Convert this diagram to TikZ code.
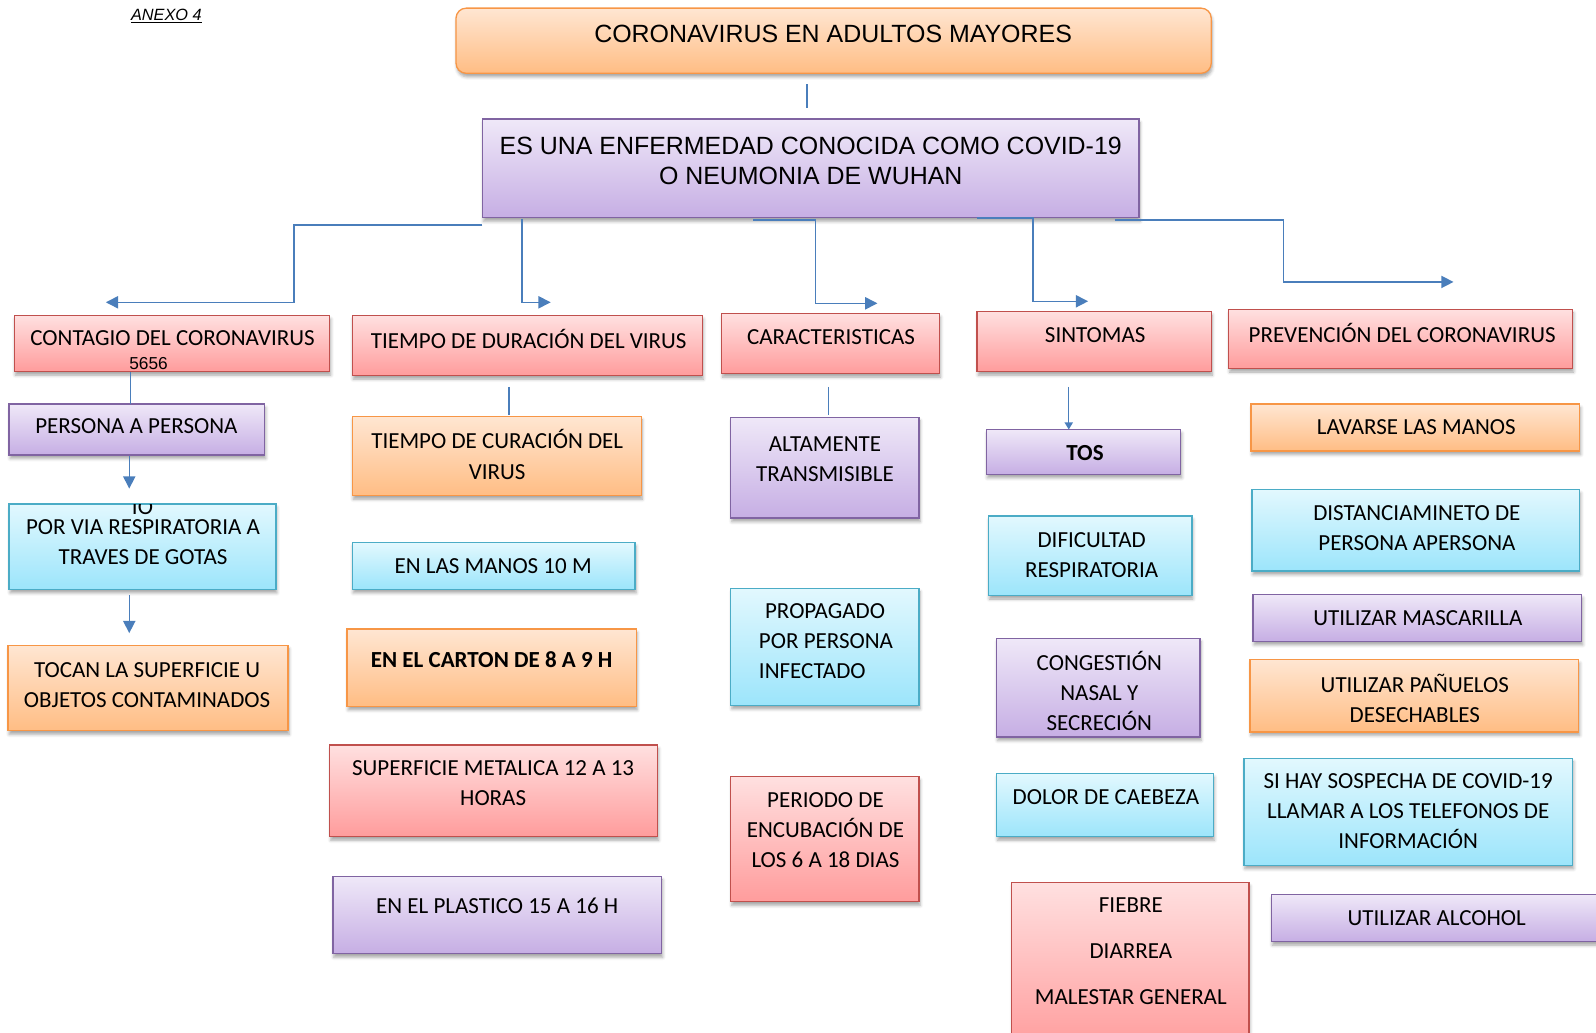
\documentclass[tikz,border=0pt]{standalone}
\usepackage{fontspec}
\setmainfont{Carlito}
\newfontfamily\arialf{Liberation Sans}
\usetikzlibrary{arrows.meta,shadows.blur,calc}
\definecolor{redD}{HTML}{C0504D}\definecolor{redT}{HTML}{FFE0E0}\definecolor{redU}{HTML}{FF9C9C}
\definecolor{oraD}{HTML}{F79646}\definecolor{oraT}{HTML}{FFE6D2}\definecolor{oraU}{HTML}{FFBD84}
\definecolor{purD}{HTML}{8064A2}\definecolor{purT}{HTML}{EFE8F8}\definecolor{purU}{HTML}{C6AEE4}
\definecolor{cyaD}{HTML}{4BACC6}\definecolor{cyaT}{HTML}{E2F8FE}\definecolor{cyaU}{HTML}{9CE5FB}
\definecolor{lineB}{HTML}{4A7EBB}
\newcommand\mkbox[6]{\node[#6, minimum width=#4pt-#2pt, minimum height=#5pt-#3pt] (#1) at ({(#2+#4)/2},{-(#3+#5)/2}) {};}
\tikzset{
  box/.style={draw, line width=1.3pt, inner sep=0pt, outer sep=0pt, rectangle,
    blur shadow={shadow xshift=1pt, shadow yshift=-3.5pt, shadow blur radius=3pt, shadow opacity=35}},
  redbox/.style={box, draw=redD, top color=redT, bottom color=redU},
  orabox/.style={box, draw=oraD, top color=oraT, bottom color=oraU},
  purbox/.style={box, draw=purD, top color=purT, bottom color=purU},
  cyabox/.style={box, draw=cyaD, top color=cyaT, bottom color=cyaU},
  txt/.style={align=center, inner sep=0pt, font=\fontsize{22.6}{29.5}\selectfont},
  atxt/.style={align=center, inner sep=0pt, font=\arialf\fontsize{24.5}{30}\selectfont},
  conn/.style={draw=lineB, line width=1.4pt},
  arr/.style={conn, -{Triangle[width=12pt,length=12pt]}},
  sarr/.style={conn, -{Triangle[width=8pt,length=7pt]}}
}
\begin{document}
\begin{tikzpicture}[x=1pt,y=1pt]
\useasboundingbox (0,0) rectangle (1568,-1014);
% boxes
\mkbox{title}{448}{8}{1190}{72}{orabox, rounded corners=10pt}
\mkbox{def}{474}{117}{1119}{214}{purbox}
\mkbox{contagio}{14}{310}{324}{365}{redbox}
\mkbox{duracion}{346}{310}{690}{369}{redbox}
\mkbox{caract}{709}{308}{923}{367}{redbox}
\mkbox{sintomas}{960}{306}{1190}{365}{redbox}
\mkbox{prevencion}{1207}{304}{1545}{362}{redbox}
\mkbox{persona}{9}{397}{260}{447}{purbox}
\mkbox{porvia}{9}{495}{271}{579}{cyabox}
\mkbox{tocan}{8}{634}{283}{718}{orabox}
\mkbox{curacion}{346}{409}{630}{487}{orabox}
\mkbox{manos}{346}{533}{624}{579}{cyabox}
\mkbox{carton}{341}{618}{625}{694}{orabox}
\mkbox{metal}{324}{732}{646}{822}{redbox}
\mkbox{plastico}{327}{861}{650}{937}{purbox}
\mkbox{altamente}{718}{410}{903}{509}{purbox}
\mkbox{propagado}{718}{578}{903}{693}{cyabox}
\mkbox{periodo}{718}{763}{903}{886}{redbox}
\mkbox{tos}{969}{422}{1160}{466}{purbox}
\mkbox{dificultad}{971}{507}{1171}{585}{cyabox}
\mkbox{congestion}{979}{627}{1179}{724}{purbox}
\mkbox{dolor}{979}{760}{1192}{822}{cyabox}
\mkbox{fiebre}{994}{867}{1227}{1032}{redbox}
\mkbox{lavarse}{1229}{397}{1552}{443}{orabox}
\mkbox{distancia}{1230}{481}{1552}{561}{cyabox}
\mkbox{mascarilla}{1231}{584}{1554}{630}{purbox}
\mkbox{panuelos}{1228}{648}{1551}{719}{orabox}
\mkbox{sospecha}{1222}{745}{1545}{850}{cyabox}
\mkbox{alcohol}{1249}{879}{1582}{925}{purbox}
% texts
\node[inner sep=0pt, font=\arialf\itshape\fontsize{16}{18}\selectfont] (anexo) at (163.5,-16) {\underline{ANEXO 4}};
\node[atxt] (ttitle) at (818.5,-33) {CORONAVIRUS EN ADULTOS MAYORES};
\node[atxt] (tdef) at (796.5,-158) {ES UNA ENFERMEDAD CONOCIDA COMO COVID-19\\O NEUMONIA DE WUHAN};
\node[txt] (tcontagio) at (169.5,-332) {CONTAGIO DEL CORONAVIRUS};
\node[inner sep=0pt, font=\arialf\fontsize{17}{19}\selectfont] (t5656) at (146,-357) {5656};
\node[txt] (tduracion) at (519.5,-333) {TIEMPO DE DURACIÓN DEL VIRUS};
\node[txt] (tcaract) at (816.5,-331) {CARACTERISTICAS};
\node[txt] (tsintomas) at (1076,-329) {SINTOMAS};
\node[txt] (tprevencion) at (1377.5,-327) {PREVENCIÓN DEL CORONAVIRUS};
\node[txt] (tpersona) at (134,-419) {PERSONA A PERSONA};
\begin{scope}
\clip ($(porvia.north west)+(1,-1)$) rectangle (porvia.south east);
\node[txt] (tio) at (140,-498) {IO};
\end{scope}
\node[txt] (tporvia) at (140.5,-533) {POR VIA RESPIRATORIA A\\TRAVES DE GOTAS};
\node[txt] (ttocan) at (144.5,-673) {TOCAN LA SUPERFICIE U\\OBJETOS CONTAMINADOS};
\node[txt] (tcuracion) at (488.5,-446.5) {TIEMPO DE CURACIÓN DEL\\VIRUS};
\node[txt] (tmanos) at (484.5,-556) {EN LAS MANOS 10 M};
\node[txt, font=\fontsize{22.6}{29.5}\selectfont\bfseries] (tcarton) at (483,-648) {EN EL CARTON DE 8 A 9 H};
\node[txt] (tmetal) at (484.5,-769) {SUPERFICIE METALICA 12 A 13\\HORAS};
\node[txt] (tplastico) at (488.5,-890) {EN EL PLASTICO 15 A 16 H};
\node[txt] (taltamente) at (810.5,-451.5) {ALTAMENTE\\TRANSMISIBLE};
\node[txt, align=left] (tpropagado) at (811.5,-630) {\hspace*{6pt}PROPAGADO\\POR PERSONA\\INFECTADO};
\node[txt] (tperiodo) at (811,-816) {PERIODO DE\\ENCUBACIÓN DE\\LOS 6 A 18 DIAS};
\node[txt, font=\fontsize{22.6}{29.5}\selectfont\bfseries] (ttos) at (1066,-445) {TOS};
\node[txt] (tdificultad) at (1072.5,-545) {DIFICULTAD\\RESPIRATORIA};
\node[txt] (tcongestion) at (1080,-679) {CONGESTIÓN\\NASAL Y\\SECRECIÓN};
\node[txt] (tdolor) at (1086.5,-783) {DOLOR DE CAEBEZA};
\node[txt, font=\fontsize{22.6}{45.5}\selectfont] (tfiebre) at (1111,-934.5) {FIEBRE\\DIARREA\\MALESTAR GENERAL};
\node[txt] (tlavarse) at (1391.5,-420) {LAVARSE LAS MANOS};
\node[txt] (tdistancia) at (1392,-518.5) {DISTANCIAMINETO DE\\PERSONA APERSONA};
\node[txt] (tmascarilla) at (1393,-607) {UTILIZAR MASCARILLA};
\node[txt] (tpanuelos) at (1390,-686) {UTILIZAR PAÑUELOS\\DESECHABLES};
\node[txt] (tsospecha) at (1383.5,-797) {SI HAY SOSPECHA DE COVID-19\\LLAMAR A LOS TELEFONOS DE\\INFORMACIÓN};
\node[txt] (talcohol) at (1411.5,-902) {UTILIZAR ALCOHOL};
% connectors
\coordinate (a1) at (104,-297);
\coordinate (a2) at (541,-297);
\coordinate (a3) at (862,-298);
\coordinate (a4) at (1069,-296);
\coordinate (a5) at (1428,-277);
\draw[conn] ($(title.south)+(-26,-11)$) -- ($(def.north)+(-3.5,11)$);
\draw[arr] ($(def.south west)+(0,-7)$) -| ($(a1)+(185,0)$) -- (a1);
\draw[arr] ($(def.south west)+(39,-1)$) |- (a2);
\draw[arr] ($(def.south west)+(266,-2)$) -| ($(a3)+(-61,0)$) -- (a3);
\draw[arr] ($(def.south west)+(486,0)$) -| ($(a4)+(-54,0)$) -- (a4);
\draw[arr] ($(def.south west)+(621,-2)$) -| ($(a5)+(-167,0)$) -- (a5);
\draw[conn] ($(contagio.south)+(-41,0)$) -- ($(persona.north)+(-6.5,0)$);
\draw[arr] ($(persona.south)+(-7.5,-1)$) -- ($(porvia.north)+(-13,15)$);
\draw[arr] ($(porvia.south)+(-13,-6)$) -- ($(tocan.north)+(-18.5,12)$);
\draw[conn] ($(duracion.south)+(-18,-11)$) -- ($(curacion.north)+(12,1)$);
\draw[conn] ($(caract.south)+(-2,-13)$) -- ($(altamente.north)+(3.5,2)$);
\draw[sarr] ($(sintomas.south)+(-25,-15)$) -- ($(tos.north)+(-14.5,0)$);
\end{tikzpicture}
\end{document}
